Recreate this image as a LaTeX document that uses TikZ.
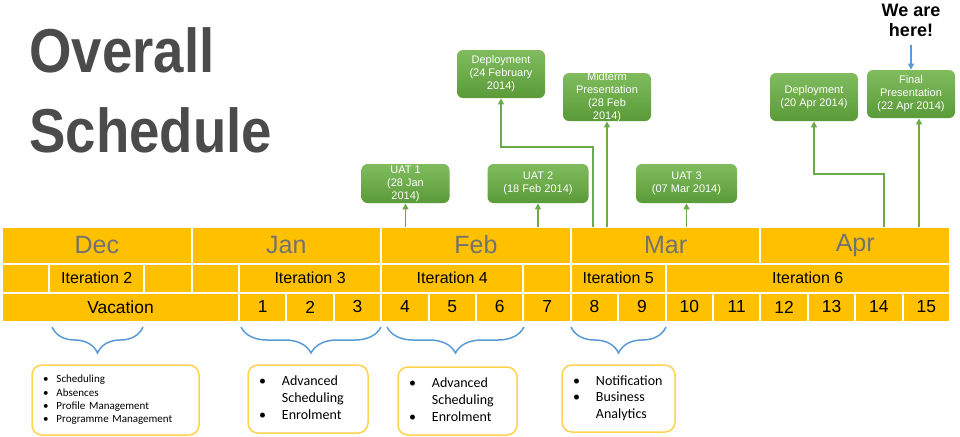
\documentclass[tikz,border=0pt]{standalone}
\usepackage{fontspec}
\setmainfont{Liberation Sans}
\newfontfamily\calibrifont{Carlito}
\newfontfamily\titlefont[FakeStretch=0.88]{Liberation Sans}
\usetikzlibrary{arrows.meta, positioning, decorations.pathreplacing}
\definecolor{barorange}{HTML}{FFC000}
\definecolor{monthgray}{HTML}{727272}
\definecolor{titlegray}{HTML}{4B4B4B}
\definecolor{msline}{HTML}{6AAB45}
\definecolor{mslight}{HTML}{80BC5E}
\definecolor{msdark}{HTML}{5A9A38}
\definecolor{braceblue}{HTML}{5B9BD5}
\definecolor{noteyellow}{HTML}{FFD34E}

\begin{document}
\begin{tikzpicture}[
        x=0.5pt, y=-0.5pt, >={Triangle[length=3pt,width=3pt]},
        cell/.style={draw=white, line width=1pt, fill=barorange, inner sep=0pt, outer sep=0pt},
        month/.style={cell, minimum width=94.8pt, minimum height=18.5pt, text=monthgray, font=\fontsize{12.5}{14}\selectfont},
        iter/.style={cell, minimum width=23.7pt, minimum height=14.5pt, font=\fontsize{8}{9}\selectfont},
        week/.style={cell, minimum width=23.7pt, minimum height=14.5pt, font=\fontsize{8.7}{10}\selectfont},
        milestone/.style={rounded corners=3pt, top color=mslight, bottom color=msdark, text=white, align=center,
          inner xsep=1pt, inner ysep=0pt, minimum width=44pt, minimum height=19.5pt, font=\fontsize{5.5}{6.5}\selectfont},
        flow/.style={->, draw=msline, line width=0.7pt},
        curly/.style={draw=braceblue, line width=0.75pt, decorate, decoration={brace, mirror, amplitude=13pt}},
        note/.style={draw=noteyellow, line width=0.75pt, fill=white, rounded corners=5pt, align=left,
          inner xsep=5.5pt, inner ysep=0pt}
        ]
        \path[use as bounding box, fill=white] (0,0) rectangle (960,436);

        \node[anchor=north west, align=left, inner sep=0pt, text=titlegray,
          font=\titlefont\bfseries\fontsize{31}{40}\selectfont] (title) at (29,27) {Overall\\Schedule};

        \node[month, anchor=west] (dec) at (2,245) {Dec};
        \node[month] (jan) [right=0pt of dec] {Jan};
        \node[month] (feb) [right=0pt of jan] {Feb};
        \node[month] (mar) [right=0pt of feb] {Mar};
        \node[month] (apr) [right=0pt of mar] {Apr};

        \node[iter, anchor=north west] (gapa) at (dec.south west) {};
        \node[iter, minimum width=47.4pt] (it2) [right=0pt of gapa] {Iteration 2};
        \node[iter] (gapb) [right=0pt of it2] {};
        \node[iter] (gapc) [right=0pt of gapb] {};
        \node[iter, minimum width=71.1pt] (it3) [right=0pt of gapc] {Iteration 3};
        \node[iter, minimum width=71.1pt] (it4) [right=0pt of it3] {Iteration 4};
        \node[iter] (gapd) [right=0pt of it4] {};
        \node[iter, minimum width=47.4pt] (it5) [right=0pt of gapd] {Iteration 5};
        \node[iter, minimum width=142.2pt] (it6) [right=0pt of it5] {Iteration 6};

        \node[week, anchor=north west, minimum width=118.5pt] (vac) at (gapa.south west) {Vacation};
        \node[week] (w1) [right=0pt of vac] {1};
        \node[week] (w2) [right=0pt of w1] {2};
        \node[week] (w3) [right=0pt of w2] {3};
        \node[week] (w4) [right=0pt of w3] {4};
        \node[week] (w5) [right=0pt of w4] {5};
        \node[week] (w6) [right=0pt of w5] {6};
        \node[week] (w7) [right=0pt of w6] {7};
        \node[week] (w8) [right=0pt of w7] {8};
        \node[week] (w9) [right=0pt of w8] {9};
        \node[week] (w10) [right=0pt of w9] {10};
        \node[week] (w11) [right=0pt of w10] {11};
        \node[week] (w12) [right=0pt of w11] {12};
        \node[week] (w13) [right=0pt of w12] {13};
        \node[week] (w14) [right=0pt of w13] {14};
        \node[week] (w15) [right=0pt of w14] {15};

        \node[milestone] (uat1) at (405.5,183.5) {UAT 1\\(28 Jan\\2014)};
        \node[milestone, minimum width=50.5pt] (uat2) at (538,183.5) {UAT 2\\(18 Feb 2014)};
        \node[milestone, minimum width=50.5pt] (uat3) at (686.5,183.5) {UAT 3\\(07 Mar 2014)};
        \node[milestone, minimum height=24pt] (depfeb) at (501,74) {Deployment\\(24 February\\2014)};
        \node[milestone, minimum height=24pt, inner ysep=-1pt] (midterm) at (607,97) {Midterm\\Presentation\\(28 Feb\\2014)};
        \node[milestone, minimum height=24pt] (depapr) at (814,97) {Deployment\\(20 Apr 2014)};
        \node[milestone, minimum height=24pt] (final) at (911,94) {Final\\Presentation\\(22 Apr 2014)};

        \node[align=center, inner sep=1pt, font=\bfseries\fontsize{9}{10}\selectfont] (here) at (911,20) {We are\\here!};

        \coordinate (tdepfeb) at (593,226.5);
        \coordinate (tdepapr) at (884,226.5);
        \coordinate (tfinal) at (919,226.5);

        \draw[flow] (uat1 |- feb.north) -- (uat1.south);
        \draw[flow] (uat2 |- feb.north) -- (uat2.south);
        \draw[flow] (uat3 |- mar.north) -- (uat3.south);
        \draw[flow] (midterm |- mar.north) -- (midterm.south);
        \draw[flow] (tdepfeb) -- ++(0,-79.5) -| (depfeb.south);
        \draw[flow] (tdepapr) -- ++(0,-52.5) -| (depapr.south);
        \draw[flow] (tfinal) -- (tfinal |- final.south);
        \draw[->, draw=braceblue, line width=0.6pt, shorten <=3pt] (here) -- (final);

        \draw[curly] (52,327) -- (143,327);
        \draw[curly] (241,327) -- (381,327);
        \draw[curly] (387,327) -- (524,327);
        \draw[curly] (571,327) -- (666,327);

        \node[note, text width=72.5pt, minimum height=35pt, font=\calibrifont\fontsize{5.5}{6.65}\selectfont] (feat2) at (115.5,400)
          {\begin{tabular}{@{}l@{\hspace{4pt}}l@{}}
            \textbullet & Scheduling\\ \textbullet & Absences\\ \textbullet & Profile Management\\ \textbullet & Programme Management
          \end{tabular}};
        \node[note, text width=49pt, minimum height=34pt, font=\calibrifont\fontsize{7}{8.35}\selectfont] (feat3) at (308,399)
          {\begin{tabular}{@{}l@{\hspace{8pt}}l@{}}
            \textbullet & Advanced\\ & Scheduling\\ \textbullet & Enrolment
          \end{tabular}};
        \node[note, text width=48.5pt, minimum height=34pt, font=\calibrifont\fontsize{7}{8.35}\selectfont] (feat4) at (457.5,401)
          {\begin{tabular}{@{}l@{\hspace{8pt}}l@{}}
            \textbullet & Advanced\\ & Scheduling\\ \textbullet & Enrolment
          \end{tabular}};
        \node[note, text width=45.5pt, minimum height=33.5pt, font=\calibrifont\fontsize{7}{8.35}\selectfont] (feat5) at (618.5,398.5)
          {\begin{tabular}{@{}l@{\hspace{8pt}}l@{}}
            \textbullet & Notification\\ \textbullet & Business\\ & Analytics
          \end{tabular}};
      \end{tikzpicture}
\end{document}
